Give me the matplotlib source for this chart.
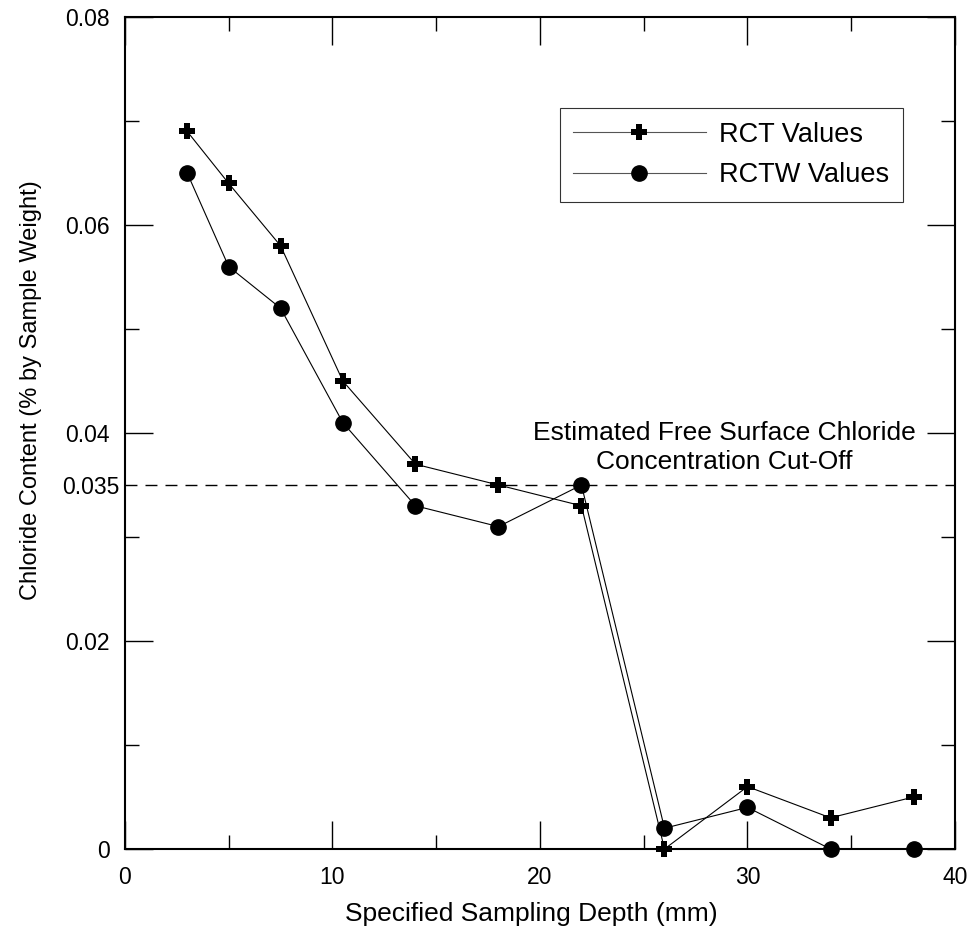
import numpy as np
import matplotlib.pyplot as plt
from matplotlib.ticker import MultipleLocator

plt.rcParams['font.family'] = ['Liberation Sans', 'DejaVu Sans']

depth = [3, 5, 7.5, 10.5, 14, 18, 22, 26, 30, 34, 38]
rct = [0.069, 0.064, 0.058, 0.045, 0.037, 0.035, 0.033, 0.0, 0.006, 0.003, 0.005]
rctw = [0.065, 0.056, 0.052, 0.041, 0.033, 0.031, 0.035, 0.002, 0.004, 0.0, 0.0]
cutoff = 0.035

fig = plt.figure(figsize=(9.76, 9.34), dpi=100)
ax = fig.add_axes([0.128, 0.091, 0.8505, 0.8908])

ax.plot(depth, rct, color='black', lw=0.8, marker='P', markersize=11,
        markeredgewidth=0, label='RCT Values', clip_on=False, zorder=3)
ax.plot(depth, rctw, color='black', lw=0.8, marker='o', markersize=11,
        label='RCTW Values', clip_on=False, zorder=3)
ax.axhline(cutoff, color='black', lw=1, linestyle=(0, (8.6, 5.8)))

ax.text(28.9, 0.0361, 'Estimated Free Surface Chloride\nConcentration Cut-Off',
        ha='center', va='bottom', fontsize=19, linespacing=1.25)

ax.set_xlim(0, 40)
ax.set_ylim(0, 0.08)
ax.xaxis.set_major_locator(MultipleLocator(10))
ax.xaxis.set_minor_locator(MultipleLocator(5))
ax.set_yticks([0, 0.02, 0.035, 0.04, 0.06, 0.08])
ax.set_yticklabels(['0', '0.02', '0.035', '0.04', '0.06', '0.08'])
ax.yaxis.set_minor_locator(MultipleLocator(0.01))
ax.tick_params(which='both', direction='in', top=True, right=True, labelsize=16.5, width=1)
ax.tick_params(which='major', length=20)
ax.tick_params(axis='y', pad=11)
ax.tick_params(axis='x', pad=12)
ax.tick_params(which='minor', length=10)
t = ax.yaxis.get_major_ticks()[2]
t.tick1line.set_visible(False)
t.tick2line.set_visible(False)
t.set_pad(4)
for s in ax.spines.values():
    s.set_linewidth(1.5)

ax.set_xlabel('Specified Sampling Depth (mm)', fontsize=19)
ax.set_ylabel('Chloride Content (% by Sample Weight)', fontsize=17)
ax.xaxis.set_label_coords(0.49, -0.064)
ax.yaxis.set_label_coords(-0.1, 0.552)

leg = ax.legend(loc='upper right', bbox_to_anchor=(0.9373, 0.8906), fontsize=19.5,
                frameon=True, fancybox=False, edgecolor='black', handlelength=4.9,
                handletextpad=0.5, borderpad=0.5, labelspacing=0.55, borderaxespad=0)
leg.get_frame().set_linewidth(0.8)
for line in leg.get_lines():
    line.set_color('#555555')
    line.set_markerfacecolor('black')
    line.set_markeredgecolor('black')

fig.savefig('out.png', dpi=100)
